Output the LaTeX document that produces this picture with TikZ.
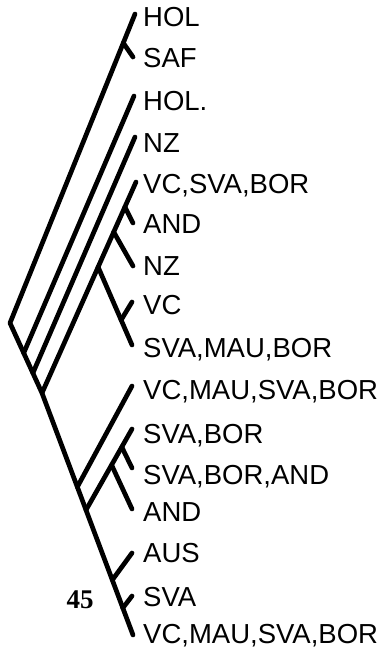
\documentclass[tikz,border=0pt]{standalone}
\usepackage{fontspec}
\setmainfont{Liberation Sans}
\newfontfamily\figfont{Liberation Serif}
\begin{document}
\begin{tikzpicture}[x=1pt,y=-1pt,line cap=round,line join=round]
	\tikzset{br/.style={line width=4.7pt},
		lab/.style={anchor=base west,inner sep=0pt,font=\fontsize{27.5}{30}\selectfont}
	}
	\useasboundingbox (0,0) rectangle (386,656);
	\foreach \n/\x/\y/\ly/\t in {1/135/14/16/HOL, 2/133/57/57/SAF, 3/134/96/100/HOL., 4/135/137/142/NZ,
		5/136/182/183/{VC,SVA,BOR}, 6/133/223/223/AND, 7/133/266/265/NZ, 8/132/302/304/VC,
		9/132/345/347/{SVA,MAU,BOR}, 10/132/386/389/{VC,MAU,SVA,BOR}, 11/132/429/433/{SVA,BOR},
		12/132/468/474/{SVA,BOR,AND}, 13/132/509/511/AND, 14/132/553/552/AUS, 15/132/596/596/SVA,
		16/133/635/633/{VC,MAU,SVA,BOR}}{
		\coordinate (t\n) at (\x,\y);
		\node[lab] (l\n) at (143,\ly+10) {\t};
	}
	\coordinate (r) at (10,323);
	\coordinate (jSAF) at (123.3,43);
	\coordinate (j3) at (23.7,353); \coordinate (j4) at (32.9,373); \coordinate (j5) at (42,393);
	\coordinate (jA) at (124.9,207); \coordinate (jN) at (113.7,232); \coordinate (jV) at (98.1,267);
	\coordinate (jVC) at (121.1,320);
	\coordinate (j10) at (77.3,487); \coordinate (j11) at (86,510);
	\coordinate (jSBA) at (121.8,447); \coordinate (jAND) at (111.6,465);
	\coordinate (j14) at (112.3,580); \coordinate (j15) at (122.8,608);
	\draw[br] (t1)--(r)--(j5)--(t16);
	\draw[br] (jSAF)--(t2);
	\draw[br] (j3)--(t3);
	\draw[br] (j4)--(t4);
	\draw[br] (j5)--(t5);
	\draw[br] (jA)--(t6);
	\draw[br] (jN)--(t7);
	\draw[br] (jV)--(t9);
	\draw[br] (jVC)--(t8);
	\draw[br] (j10)--(t10);
	\draw[br] (j11)--(t11);
	\draw[br] (jSBA)--(t12);
	\draw[br] (jAND)--(t13);
	\draw[br] (j14)--(t14);
	\draw[br] (j15)--(t15);
	\node[inner sep=0pt,font=\figfont\bfseries\fontsize{27}{30}\selectfont] (n45) at (80,600) {45};
\end{tikzpicture}
\end{document}
